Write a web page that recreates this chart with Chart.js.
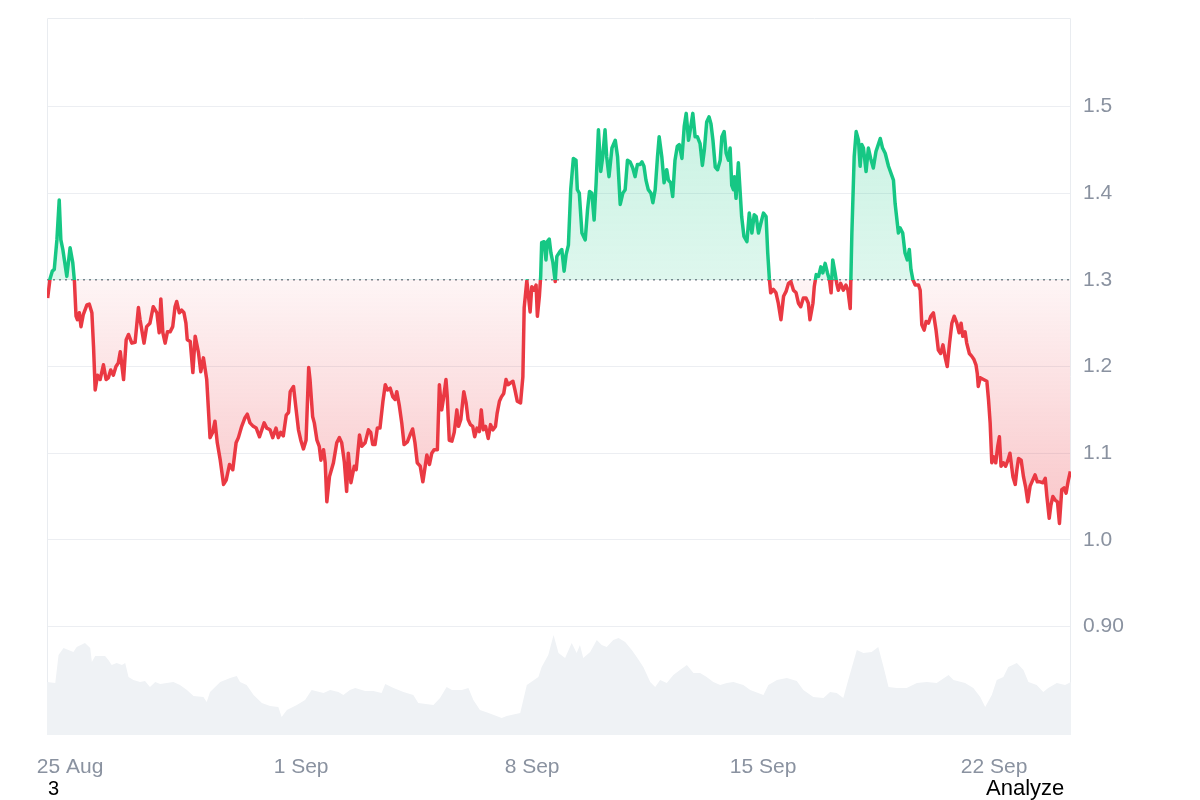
<!DOCTYPE html>
<html>
<head>
<meta charset="utf-8">
<script src="https://cdn.jsdelivr.net/npm/chart.js@4.4.0/dist/chart.umd.min.js"></script>
<style>
  html, body { margin: 0; background: #fff; }
  #wrap { position: relative; width: 1200px; height: 800px; }
  .note { position: absolute; font: 20px 'Liberation Sans', Arial, sans-serif; color: #000; }
</style>
</head>
<body>
<div id="wrap">
  <canvas id="chart" width="1200" height="800"></canvas>
  <div class="note" style="left:48px; top:777px;">3</div>
  <div class="note" style="left:986px; top:775px; font-size:22px;">Analyze</div>
</div>
<script>
// days since 25 Aug 00:00
const priceDays = [
  -0.68, -0.61, -0.54, -0.48, -0.40, -0.33, -0.28, -0.22, -0.10, 0.00, 0.08, 0.13, 0.18, 0.22, 0.28, 0.33, 0.40, 0.51, 0.58, 0.66,
  0.71, 0.76, 0.83, 0.91, 1.01, 1.09, 1.16, 1.23, 1.31, 1.39, 1.46, 1.52, 1.62, 1.70, 1.77, 1.87, 1.97, 2.07, 2.12, 2.24,
  2.32, 2.42, 2.52, 2.63, 2.70, 2.75, 2.81, 2.88, 2.95, 3.03, 3.11, 3.18, 3.23, 3.31, 3.38, 3.45, 3.51, 3.55, 3.64, 3.72,
  3.79, 3.89, 3.96, 4.04, 4.14, 4.24, 4.32, 4.39, 4.46, 4.55, 4.65, 4.73, 4.83, 4.93, 5.03, 5.10, 5.20, 5.30, 5.37, 5.45,
  5.55, 5.64, 5.74, 5.88, 5.96, 6.06, 6.14, 6.24, 6.31, 6.38, 6.46, 6.55, 6.62, 6.67, 6.77, 6.85, 6.92, 6.99, 7.07, 7.15,
  7.23, 7.27, 7.35, 7.40, 7.48, 7.55, 7.60, 7.68, 7.73, 7.78, 7.86, 7.98, 8.08, 8.16, 8.23, 8.31, 8.38, 8.43, 8.51, 8.61,
  8.67, 8.77, 8.84, 8.94, 9.04, 9.11, 9.17, 9.24, 9.31, 9.39, 9.48, 9.55, 9.62, 9.70, 9.78, 9.85, 9.90, 9.98, 10.05, 10.12,
  10.22, 10.30, 10.38, 10.45, 10.52, 10.61, 10.69, 10.76, 10.81, 10.89, 10.96, 11.03, 11.13, 11.19, 11.26, 11.31, 11.39, 11.43, 11.49, 11.57,
  11.64, 11.72, 11.77, 11.84, 11.93, 12.00, 12.06, 12.13, 12.20, 12.26, 12.33, 12.40, 12.46, 12.52, 12.59, 12.67, 12.74, 12.81, 12.89, 12.94,
  13.01, 13.07, 13.14, 13.21, 13.27, 13.34, 13.42, 13.48, 13.55, 13.65, 13.72, 13.76, 13.84, 13.89, 13.94, 13.99, 14.06, 14.12, 14.16, 14.22,
  14.26, 14.29, 14.36, 14.42, 14.46, 14.52, 14.57, 14.63, 14.70, 14.75, 14.85, 14.90, 14.97, 15.03, 15.10, 15.17, 15.25, 15.33, 15.37, 15.43,
  15.51, 15.61, 15.68, 15.74, 15.81, 15.88, 15.94, 16.01, 16.08, 16.14, 16.21, 16.26, 16.33, 16.42, 16.52, 16.59, 16.67, 16.75, 16.82, 16.89,
  16.97, 17.05, 17.12, 17.19, 17.27, 17.33, 17.39, 17.45, 17.52, 17.60, 17.66, 17.73, 17.80, 17.85, 17.93, 18.00, 18.08, 18.13, 18.20, 18.26,
  18.33, 18.40, 18.46, 18.54, 18.61, 18.67, 18.74, 18.81, 18.87, 18.94, 19.01, 19.09, 19.16, 19.22, 19.29, 19.36, 19.42, 19.48, 19.55, 19.62,
  19.70, 19.75, 19.82, 19.88, 19.95, 20.00, 20.05, 20.10, 20.13, 20.18, 20.25, 20.30, 20.35, 20.42, 20.51, 20.58, 20.66, 20.73, 20.79, 20.86,
  20.93, 21.01, 21.09, 21.14, 21.19, 21.23, 21.31, 21.39, 21.46, 21.54, 21.62, 21.70, 21.77, 21.84, 21.92, 22.00, 22.07, 22.14, 22.22, 22.30,
  22.37, 22.42, 22.51, 22.55, 22.61, 22.68, 22.75, 22.81, 22.88, 22.95, 23.01, 23.06, 23.11, 23.18, 23.23, 23.28, 23.35, 23.43, 23.51, 23.57,
  23.64, 23.69, 23.76, 23.82, 23.89, 23.94, 23.99, 24.04, 24.12, 24.19, 24.26, 24.34, 24.42, 24.49, 24.55, 24.62, 24.70, 24.80, 24.95, 25.00,
  25.10, 25.15, 25.23, 25.30, 25.37, 25.43, 25.48, 25.54, 25.61, 25.71, 25.76, 25.81, 25.88, 25.94, 26.01, 26.08, 26.16, 26.24, 26.31, 26.38,
  26.45, 26.52, 26.58, 26.65, 26.72, 26.79, 26.87, 26.94, 27.00, 27.05, 27.12, 27.17, 27.25, 27.32, 27.39, 27.45, 27.49, 27.52, 27.58, 27.68,
  27.78, 27.83, 27.88, 27.93, 27.98, 28.05, 28.11, 28.16, 28.21, 28.28, 28.35, 28.42, 28.48, 28.57, 28.64, 28.69, 28.74, 28.82, 28.89, 28.96,
  29.02, 29.09, 29.17, 29.24, 29.31, 29.39, 29.48, 29.55, 29.60, 29.67, 29.72, 29.78, 29.85, 29.92, 29.98, 30.05, 30.12, 30.18, 30.25, 30.31
];
const priceValues = [
  1.279, 1.301, 1.310, 1.312, 1.346, 1.392, 1.346, 1.335, 1.304, 1.337, 1.320, 1.299, 1.258, 1.254, 1.262, 1.246, 1.260, 1.271, 1.272, 1.262,
  1.223, 1.173, 1.190, 1.185, 1.202, 1.185, 1.187, 1.196, 1.190, 1.200, 1.204, 1.217, 1.185, 1.231, 1.237, 1.227, 1.228, 1.268, 1.254, 1.227,
  1.246, 1.250, 1.269, 1.262, 1.239, 1.278, 1.239, 1.227, 1.240, 1.240, 1.246, 1.269, 1.275, 1.262, 1.265, 1.262, 1.250, 1.231, 1.229, 1.193,
  1.235, 1.216, 1.194, 1.210, 1.185, 1.118, 1.124, 1.137, 1.112, 1.092, 1.064, 1.069, 1.087, 1.081, 1.112, 1.118, 1.131, 1.141, 1.145, 1.135,
  1.131, 1.129, 1.119, 1.135, 1.129, 1.127, 1.118, 1.129, 1.118, 1.124, 1.120, 1.144, 1.147, 1.171, 1.177, 1.150, 1.127, 1.115, 1.105, 1.115,
  1.199, 1.185, 1.142, 1.135, 1.115, 1.108, 1.092, 1.104, 1.089, 1.044, 1.073, 1.089, 1.112, 1.118, 1.112, 1.090, 1.056, 1.100, 1.066, 1.085,
  1.081, 1.121, 1.108, 1.112, 1.127, 1.124, 1.110, 1.110, 1.129, 1.129, 1.160, 1.179, 1.173, 1.175, 1.165, 1.162, 1.171, 1.154, 1.135, 1.110,
  1.113, 1.121, 1.128, 1.112, 1.089, 1.085, 1.067, 1.085, 1.098, 1.087, 1.100, 1.104, 1.104, 1.179, 1.150, 1.162, 1.185, 1.165, 1.115, 1.114,
  1.124, 1.150, 1.131, 1.139, 1.171, 1.158, 1.139, 1.133, 1.131, 1.119, 1.129, 1.125, 1.150, 1.127, 1.131, 1.117, 1.133, 1.127, 1.131, 1.146,
  1.160, 1.165, 1.169, 1.185, 1.179, 1.181, 1.183, 1.173, 1.160, 1.158, 1.188, 1.268, 1.299, 1.281, 1.263, 1.292, 1.288, 1.294, 1.258, 1.281,
  1.304, 1.343, 1.344, 1.323, 1.344, 1.347, 1.331, 1.320, 1.298, 1.327, 1.333, 1.335, 1.310, 1.329, 1.340, 1.404, 1.440, 1.438, 1.404, 1.400,
  1.354, 1.346, 1.381, 1.402, 1.400, 1.369, 1.412, 1.473, 1.425, 1.442, 1.473, 1.442, 1.419, 1.452, 1.461, 1.442, 1.387, 1.400, 1.404, 1.438,
  1.436, 1.429, 1.419, 1.433, 1.433, 1.436, 1.431, 1.415, 1.404, 1.400, 1.389, 1.404, 1.442, 1.465, 1.442, 1.412, 1.427, 1.415, 1.412, 1.396,
  1.438, 1.454, 1.456, 1.440, 1.477, 1.492, 1.461, 1.477, 1.492, 1.465, 1.465, 1.457, 1.432, 1.450, 1.482, 1.488, 1.480, 1.461, 1.430, 1.427,
  1.438, 1.465, 1.471, 1.446, 1.438, 1.452, 1.409, 1.404, 1.419, 1.394, 1.435, 1.404, 1.373, 1.350, 1.344, 1.377, 1.354, 1.375, 1.373, 1.354,
  1.365, 1.377, 1.373, 1.331, 1.301, 1.285, 1.289, 1.285, 1.273, 1.254, 1.281, 1.287, 1.296, 1.298, 1.288, 1.285, 1.273, 1.269, 1.279, 1.279,
  1.273, 1.254, 1.273, 1.292, 1.306, 1.304, 1.315, 1.308, 1.319, 1.308, 1.300, 1.285, 1.323, 1.308, 1.296, 1.288, 1.296, 1.288, 1.294, 1.288,
  1.267, 1.354, 1.442, 1.471, 1.461, 1.431, 1.456, 1.452, 1.425, 1.452, 1.440, 1.429, 1.448, 1.456, 1.463, 1.452, 1.446, 1.431, 1.415, 1.388,
  1.354, 1.360, 1.354, 1.331, 1.323, 1.335, 1.312, 1.300, 1.294, 1.294, 1.288, 1.248, 1.242, 1.252, 1.250, 1.258, 1.262, 1.242, 1.219, 1.215,
  1.225, 1.210, 1.200, 1.227, 1.250, 1.258, 1.250, 1.239, 1.250, 1.235, 1.240, 1.227, 1.215, 1.212, 1.208, 1.202, 1.192, 1.177, 1.187, 1.185,
  1.183, 1.162, 1.135, 1.089, 1.096, 1.089, 1.108, 1.119, 1.085, 1.089, 1.085, 1.092, 1.100, 1.073, 1.064, 1.081, 1.094, 1.092, 1.073, 1.060,
  1.044, 1.062, 1.069, 1.075, 1.067, 1.067, 1.066, 1.071, 1.050, 1.025, 1.040, 1.050, 1.046, 1.044, 1.019, 1.058, 1.060, 1.054, 1.069, 1.079
];

// trading volume (millions)
const volumeDays = [
  -0.70, -0.45, -0.35, -0.20, -0.05, 0.10, 0.20, 0.45, 0.61, 0.66, 0.76, 1.06, 1.16, 1.26, 1.41, 1.57, 1.67, 1.77, 1.92, 2.12,
  2.27, 2.42, 2.58, 2.73, 2.93, 3.13, 3.33, 3.54, 3.74, 4.04, 4.14, 4.24, 4.55, 4.85, 5.05, 5.15, 5.35, 5.56, 5.81, 6.06,
  6.31, 6.41, 6.57, 6.87, 7.12, 7.32, 7.68, 7.88, 8.13, 8.28, 8.48, 8.64, 8.94, 9.19, 9.44, 9.55, 9.80, 10.10, 10.40, 10.55,
  11.01, 11.21, 11.41, 11.57, 11.87, 12.07, 12.22, 12.42, 12.68, 13.08, 13.23, 13.64, 13.84, 14.19, 14.29, 14.49, 14.65, 14.80, 15.00, 15.20,
  15.35, 15.45, 15.55, 15.76, 15.96, 16.11, 16.26, 16.46, 16.62, 16.82, 17.02, 17.17, 17.37, 17.58, 17.73, 17.88, 18.08, 18.28, 18.48, 18.69,
  18.89, 19.09, 19.29, 19.49, 19.70, 19.90, 20.10, 20.40, 20.61, 21.01, 21.16, 21.42, 21.72, 22.02, 22.22, 22.52, 22.83, 23.03, 23.23, 23.43,
  23.58, 23.84, 24.04, 24.29, 24.49, 24.65, 24.80, 25.05, 25.35, 25.66, 25.96, 26.26, 26.62, 26.77, 27.12, 27.37, 27.58, 27.73, 27.93, 28.08,
  28.28, 28.43, 28.69, 28.89, 29.04, 29.29, 29.49, 29.64, 29.90, 30.15, 30.33
];
const volumeValues = [
  5.3, 5.2, 8.0, 8.7, 8.5, 8.3, 8.8, 9.2, 8.7, 7.3, 7.9, 7.9, 7.5, 7.0, 7.2, 7.0, 7.2, 5.8, 5.5, 5.3,
  5.4, 4.8, 5.3, 5.1, 5.2, 5.3, 5.0, 4.5, 3.9, 3.8, 3.3, 4.3, 5.3, 5.7, 5.9, 5.3, 5.0, 4.0, 3.2, 2.9,
  2.8, 1.8, 2.5, 3.0, 3.5, 4.5, 4.2, 4.5, 4.3, 4.0, 4.5, 4.7, 4.4, 4.4, 4.2, 5.1, 4.7, 4.3, 4.0, 3.2,
  3.0, 3.7, 4.8, 4.5, 4.5, 4.7, 3.5, 2.5, 2.2, 1.7, 1.9, 2.2, 5.0, 5.8, 6.8, 8.0, 10.0, 8.2, 7.7, 9.2,
  8.2, 9.0, 7.7, 8.3, 9.5, 9.0, 8.8, 9.5, 9.7, 9.3, 8.5, 7.8, 6.8, 5.3, 4.8, 5.5, 5.2, 6.0, 6.5, 7.0,
  6.2, 6.2, 5.8, 5.3, 5.0, 5.2, 5.3, 5.0, 4.5, 4.0, 5.0, 5.5, 5.7, 5.4, 4.5, 3.8, 3.7, 4.3, 4.2, 3.7,
  5.5, 8.5, 8.2, 8.3, 8.8, 6.8, 4.8, 4.7, 4.7, 5.2, 5.3, 5.2, 6.0, 5.5, 5.2, 4.7, 3.8, 2.8, 4.0, 5.5,
  5.8, 6.8, 7.2, 6.5, 5.3, 5.0, 4.3, 4.7, 5.2, 5.0, 5.3
];

const baseline = 1.3;
const xTickDays = [0, 7, 14, 21, 28];
const xTickLabels = ['25 Aug', '1 Sep', '8 Sep', '15 Sep', '22 Sep'];
const yTickValues = [0.9, 1.0, 1.1, 1.2, 1.3, 1.4, 1.5];
const yTickLabels = ['0.90', '1.0', '1.1', '1.2', '1.3', '1.4', '1.5'];

const GREEN = '#16c784';
const RED = '#ea3943';
const AXIS_TEXT = '#8a92a0';
const FONT = "'Liberation Sans', Arial, sans-serif";

function splitGradient(context, stops) {
  const chart = context.chart;
  const area = chart.chartArea;
  if (!area) return stops[1];
  const yBase = chart.scales.y.getPixelForValue(baseline);
  const s = Math.min(1, Math.max(0, (yBase - area.top) / (area.bottom - area.top)));
  const g = chart.ctx.createLinearGradient(0, area.top, 0, area.bottom);
  g.addColorStop(0, stops[0]);
  g.addColorStop(s, stops[1]);
  g.addColorStop(s, stops[2]);
  g.addColorStop(1, stops[3]);
  return g;
}

// frame and dotted reference line
const framePlugin = {
  id: 'frame',
  beforeDatasetsDraw(chart) {
    const { ctx, chartArea: a } = chart;
    const y = chart.scales.y.getPixelForValue(baseline);
    ctx.save();
    ctx.strokeStyle = '#e9ecf0';
    ctx.lineWidth = 1;
    ctx.beginPath();
    ctx.moveTo(a.left + 0.5, a.bottom);
    ctx.lineTo(a.left + 0.5, a.top + 0.5);
    ctx.lineTo(a.right - 0.5, a.top + 0.5);
    ctx.lineTo(a.right - 0.5, a.bottom);
    ctx.stroke();
    ctx.strokeStyle = '#7d828c';
    ctx.lineWidth = 1.5;
    ctx.setLineDash([2, 4]);
    ctx.beginPath();
    ctx.moveTo(a.left, y);
    ctx.lineTo(a.right, y);
    ctx.stroke();
    ctx.restore();
  }
};

new Chart(document.getElementById('chart'), {
  type: 'line',
  data: {
    datasets: [{
      data: priceDays.map((d, i) => ({ x: d, y: priceValues[i] })),
      yAxisID: 'y',
      order: 1,
      borderWidth: 3.5,
      borderJoinStyle: 'round',
      pointRadius: 0,
      tension: 0,
      borderColor: (c) => splitGradient(c, [GREEN, GREEN, RED, RED]),
      backgroundColor: (c) => splitGradient(c, [
        'rgba(22,199,132,0.28)', 'rgba(22,199,132,0.14)',
        'rgba(234,57,67,0.05)', 'rgba(234,57,67,0.50)'
      ]),
      fill: { target: { value: baseline } }
    }, {
      data: volumeDays.map((d, i) => ({ x: d, y: volumeValues[i] })),
      yAxisID: 'y2',
      order: 2,
      borderWidth: 0,
      pointRadius: 0,
      tension: 0,
      backgroundColor: '#eff2f5',
      fill: 'start'
    }]
  },
  options: {
    responsive: false,
    animation: false,
    events: [],
    layout: { padding: { left: 47, top: 18, right: 0, bottom: 0 } },
    plugins: { legend: { display: false }, tooltip: { enabled: false } },
    scales: {
      x: {
        type: 'linear',
        min: -0.70,
        max: 30.33,
        grid: { display: false },
        border: { display: false },
        afterBuildTicks: (scale) => { scale.ticks = xTickDays.map(v => ({ value: v })); },
        afterFit: (scale) => { scale.height = 65; scale.paddingLeft = 0; scale.paddingRight = 0; },
        ticks: {
          autoSkip: false,
          maxRotation: 0,
          padding: 12,
          color: AXIS_TEXT,
          font: { family: FONT, size: 21 },
          callback: (v) => xTickLabels[xTickDays.indexOf(v)]
        }
      },
      y: {
        position: 'right',
        min: 0.775,
        max: 1.602,
        grid: { color: '#eceef2', drawTicks: false },
        border: { display: false },
        afterBuildTicks: (scale) => { scale.ticks = yTickValues.map(v => ({ value: v })); },
        afterFit: (scale) => { scale.width = 129; scale.paddingTop = 0; scale.paddingBottom = 0; },
        ticks: {
          padding: 12,
          color: AXIS_TEXT,
          font: { family: FONT, size: 21 },
          callback: (v) => yTickLabels[yTickValues.indexOf(v)]
        }
      },
      y2: { display: false, min: 0, max: 71.7 }
    }
  },
  plugins: [framePlugin]
});
</script>
</body>
</html>
